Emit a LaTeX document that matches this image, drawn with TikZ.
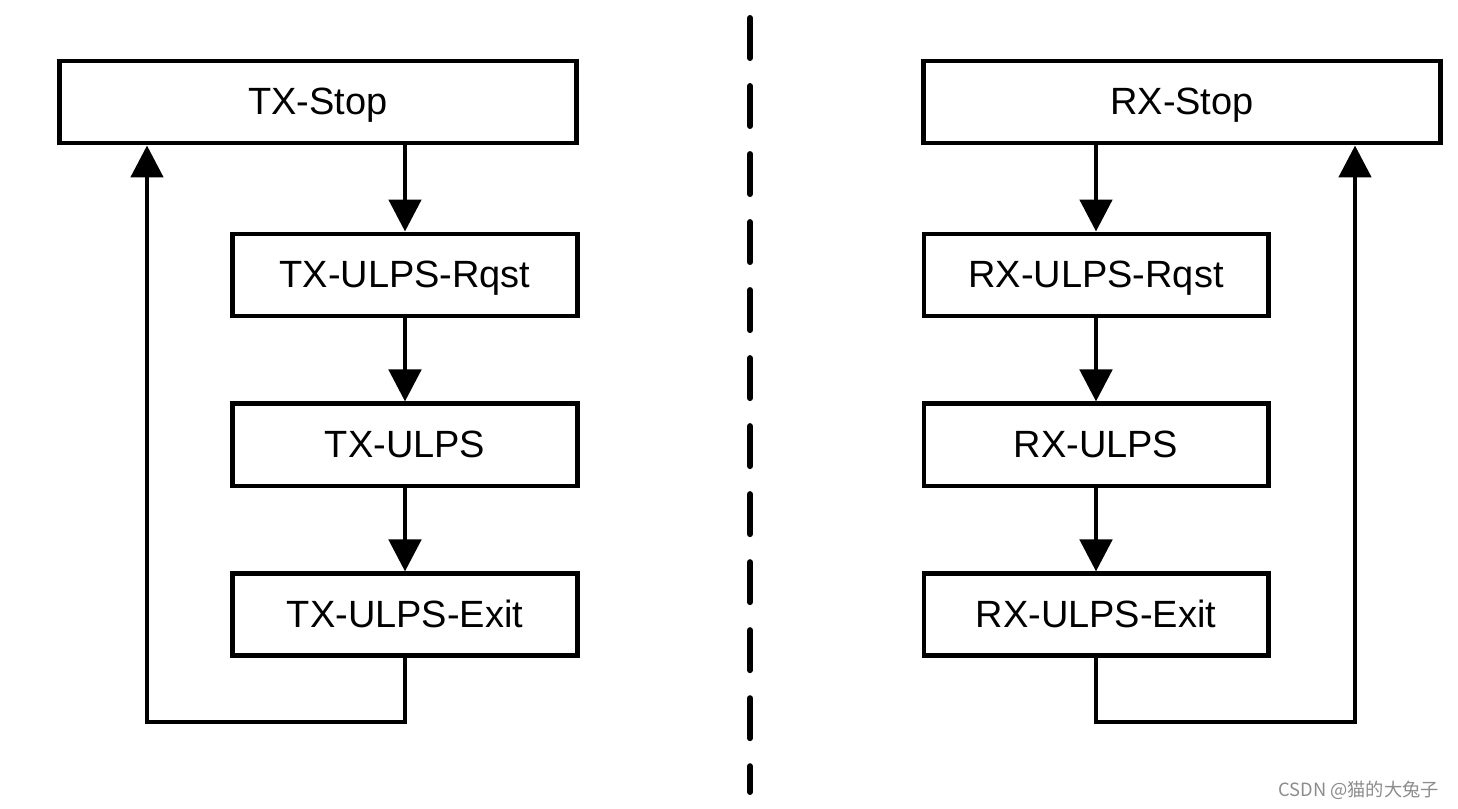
\documentclass[tikz,border=0pt]{standalone}
\usepackage{fontspec}
\setmainfont{Liberation Sans}
\newfontfamily\cjk{Noto Sans CJK SC}
\usetikzlibrary{arrows.meta,positioning}

\begin{document}
\begin{tikzpicture}[x=0.025cm, y=-0.025cm,
    state/.style={draw, line width=3.5pt, inner sep=0pt, minimum width=8.6cm,
        minimum height=2.05cm, text height=19.5pt, text depth=2pt,
        font=\fontsize{27}{32}\selectfont},
    stopstate/.style={state, minimum width=12.9cm},
    flow/.style={line width=3.5pt, -{Triangle[width=0.8cm,length=0.8cm]}},
    divider/.style={line width=4.25pt, line cap=round, dash pattern=on 1cm off 0.7cm},
    watermark/.style={text=black!45, font=\cjk\fontsize{13}{15}\selectfont},
    node distance=2.075cm]
\useasboundingbox (0,0) rectangle (1458,808);
\node [stopstate] (txstop) at (318,102) {TX-Stop};
\node [state] (txrqst) at (405,275) {TX-ULPS-Rqst};
\node [state, below= of txrqst] (txulps) {TX-ULPS};
\node [state, below= of txulps] (txexit) {TX-ULPS-Exit};
\node [stopstate] (rxstop) at (1182,102) {RX-Stop};
\node [state] (rxrqst) at (1096,275) {RX-ULPS-Rqst};
\node [state, below= of rxrqst] (rxulps) {RX-ULPS};
\node [state, below= of rxulps] (rxexit) {RX-ULPS-Exit};
\coordinate (txret) at (147,722);
\coordinate (rxret) at (1355,722);
\coordinate (divtop) at (750,18);
\coordinate (divbot) at (750,792);
\draw [flow] (txstop.south -| txrqst) -- (txrqst);
\draw [flow] (txrqst) -- (txulps);
\draw [flow] (txulps) -- (txexit);
\draw [flow] (txexit.south) |- (txret) -- (txret |- txstop.south);
\draw [flow] (rxstop.south -| rxrqst) -- (rxrqst);
\draw [flow] (rxrqst) -- (rxulps);
\draw [flow] (rxulps) -- (rxexit);
\draw [flow] (rxexit.south) |- (rxret) -- (rxret |- rxstop.south);
\draw [divider] (divtop) -- (divbot);
\node [watermark, anchor=east] (mark) at (1444,790) {CSDN @猫的大兔子};
\end{tikzpicture}
\end{document}
